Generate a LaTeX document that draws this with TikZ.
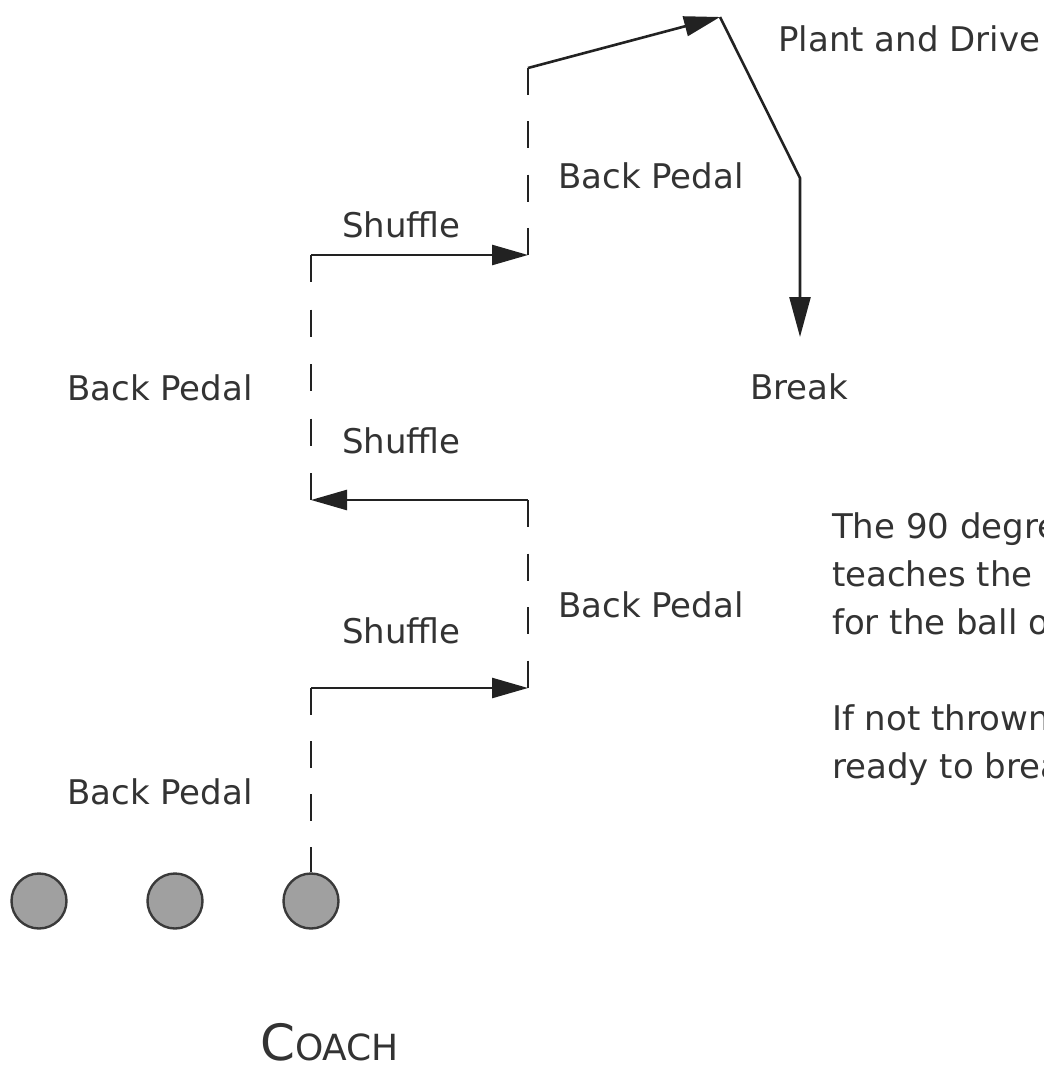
\documentclass[tikz,border=0pt]{standalone}
\usepackage{fontspec}
\setmainfont{DejaVu Sans}
\usetikzlibrary{arrows.meta}
\definecolor{linecol}{HTML}{222222}
\definecolor{txtcol}{HTML}{333333}
\definecolor{circfill}{RGB}{160,160,160}
\definecolor{circdraw}{HTML}{3A3A3A}
\tikzset{
  route/.style={line width=2.6pt, draw=linecol},
  shuf/.style={route, -{Triangle[length=36pt,width=20pt]}},
  bped/.style={route, dash pattern=on 27pt off 26pt},
  lbl/.style={text=txtcol, inner sep=0pt, anchor=base west, font=\fontsize{34}{40}\selectfont},
  player/.style={circle, draw=circdraw, fill=circfill, line width=2.4pt, minimum size=55pt, inner sep=0pt}
}
\begin{document}
\begin{tikzpicture}[x=1pt,y=-1pt]
\useasboundingbox (0,0) rectangle (1043,1067);
\clip (0,0) rectangle (1043,1067);
% players
\node[player] (p1) at (39,901) {};
\node[player] (p2) at (175,901) {};
\node[player] (p3) at (311,901) {};
% route corners
\coordinate (a1) at (311,688);
\coordinate (a2) at (528,688);
\coordinate (a3) at (528,500);
\coordinate (a4) at (311,500);
\coordinate (a5) at (311,255);
\coordinate (a6) at (528,255);
\coordinate (a7) at (528,68);
\coordinate (a8) at (720,17);
\coordinate (a9) at (800,178);
\coordinate (a10) at (800,337);
% route
\draw[bped] (a1) -- (p3.north);
\draw[shuf] (a1) -- (a2);
\draw[bped, dash pattern=on 27pt off 26.5pt] (a3) -- (a2);
\draw[shuf] (a3) -- (a4);
\draw[bped, dash pattern=on 27pt off 27.5pt] (a5) -- (a4);
\draw[shuf] (a5) -- (a6);
\draw[bped, dash pattern=on 27pt off 26.3pt] (a7) -- (a6);
\draw[shuf] (a7) -- (a8);
\draw[route, line join=miter, -{Triangle[length=40pt,width=21pt]}] (a8) -- (a9) -- (a10);
% labels
\node[lbl] (t1) at (778,52) {Plant and Drive};
\node[lbl] (t2) at (558,189) {Back Pedal};
\node[lbl] (t3) at (342,237) {Shuffle};
\node[lbl] (t4) at (67,400) {Back Pedal};
\node[lbl] (t5) at (750,399) {Break};
\node[lbl] (t6) at (342,453) {Shuffle};
\node[lbl] (t7) at (558,617) {Back Pedal};
\node[lbl] (t8) at (342,643) {Shuffle};
\node[lbl] (t9) at (67,804) {Back Pedal};
\node[lbl] (c1) at (832,538) {The 90 degree};
\node[lbl] (c2) at (832,586) {teaches the};
\node[lbl] (c3) at (832,634) {for the ball on};
\node[lbl] (c4) at (832,730) {If not thrown};
\node[lbl] (c5) at (832,778) {ready to break};
\node[text=txtcol, inner sep=0pt, anchor=base west] (coach) at (260,1060)
  {\fontsize{50}{50}\selectfont C\fontsize{36}{36}\selectfont OACH};
\end{tikzpicture}
\end{document}
